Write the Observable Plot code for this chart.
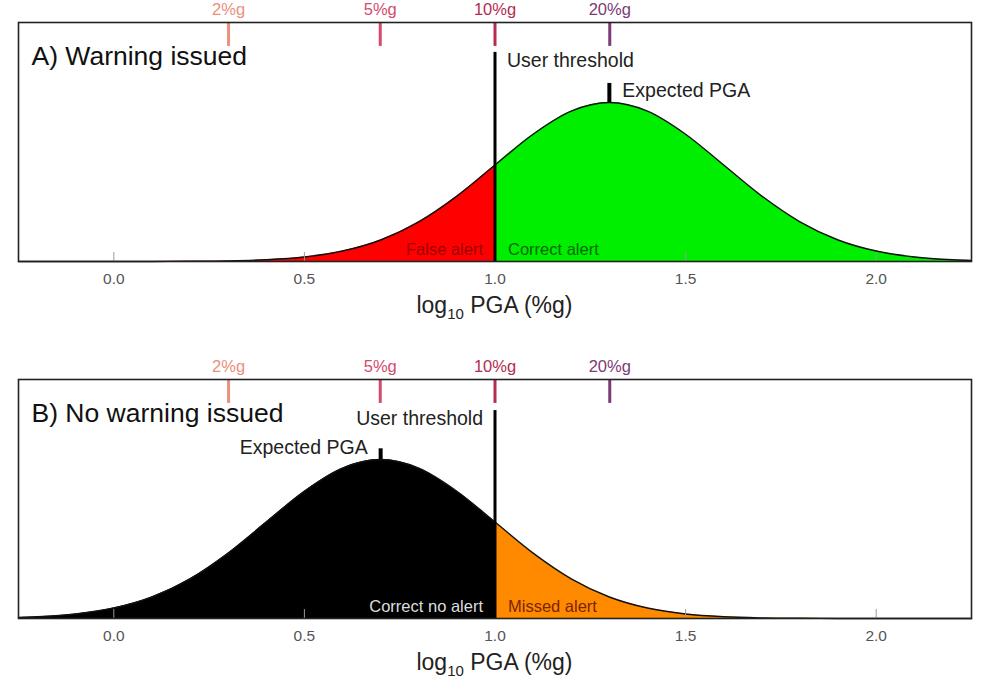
<!DOCTYPE html>
<html>
<head>
<meta charset="utf-8">
<script src="https://cdn.jsdelivr.net/npm/d3@7"></script>
<script src="https://cdn.jsdelivr.net/npm/@observablehq/plot@0.6"></script>
<style>
  body { margin: 0; background: #fff; font-family: "Liberation Sans", Arial, sans-serif; }
  #chart svg { display: block; }
</style>
</head>
<body>
<div id="chart"></div>
<script>
// ---- data ----
const xs = [-0.25, -0.2, -0.1, 0.0, 0.1, 0.2, 0.3, 0.4, 0.5, 0.6, 0.7, 0.8, 0.9, 1.0,
            1.1, 1.2, 1.3, 1.4, 1.5, 1.6, 1.7, 1.8, 1.9, 2.0, 2.1, 2.2, 2.25];
const densityA = [0, 0, 0, 0.0001, 0.0004, 0.0016, 0.0051, 0.0148, 0.038, 0.0874, 0.180, 0.332, 0.547, 0.807,
                  1.065, 1.258, 1.330, 1.258, 1.065, 0.807, 0.547, 0.332, 0.180, 0.0874, 0.038, 0.0148, 0.0088];
const densityB = [0.0088, 0.0148, 0.038, 0.0874, 0.180, 0.332, 0.547, 0.807, 1.065, 1.258, 1.330, 1.258, 1.065, 0.807,
                  0.547, 0.332, 0.180, 0.0874, 0.038, 0.0148, 0.0051, 0.0016, 0.0004, 0.0001, 0, 0, 0];
const threshold = 1.0;
const expectedA = 1.3;
const expectedB = 0.7;
const pgaTickLabels = ["2%g", "5%g", "10%g", "20%g"];
const pgaTickValues = [Math.log10(2), Math.log10(5), Math.log10(10), Math.log10(20)];
const pgaTickColors = ["#ec8f7c", "#d44a6c", "#b42c50", "#7c3a76"];
const xTicks = [0, 0.5, 1.0, 1.5, 2.0];

function panel(o) {
  const data = xs.map((x, i) => ({x, y: o.density[i]}));
  const left = data.filter(d => d.x <= threshold);
  const right = data.filter(d => d.x >= threshold);
  const peak = d3.max(o.density);
  const tops = pgaTickValues.map((v, i) => ({v, label: pgaTickLabels[i], color: pgaTickColors[i]}));
  const side = o.side === "right" ? 1 : -1;
  const anchor = o.side === "right" ? "start" : "end";
  const font = "Liberation Sans, Arial, sans-serif";
  const chart = Plot.plot({
    width: 983,
    height: o.height,
    marginTop: o.marginTop,
    marginBottom: o.marginBottom,
    marginLeft: 18,
    marginRight: 12,
    style: {fontFamily: font, background: "#fff"},
    x: {domain: [-0.25, 2.25], ticks: xTicks, tickFormat: d3.format(".1f"), label: null},
    y: {domain: [0, 2], axis: null},
    marks: [
      Plot.areaY(left, {x: "x", y: "y", fill: o.leftFill, curve: "monotone-x"}),
      Plot.areaY(right, {x: "x", y: "y", fill: o.rightFill, curve: "monotone-x"}),
      Plot.lineY(data, {x: "x", y: "y", stroke: "#111", strokeWidth: 1.4, curve: "monotone-x"}),
      Plot.ruleX(xTicks, {y1: 0, y2: 0.075, stroke: "#999", strokeWidth: 1}),
      Plot.axisX({tickSize: 0, tickPadding: 11, fontSize: 15.5, fill: "#555", ticks: xTicks, tickFormat: d3.format(".1f")}),
      Plot.ruleX([threshold], {y1: 0, y2: o.thrTop, stroke: "#000", strokeWidth: 3}),
      Plot.ruleX([o.expected], {y1: peak, y2: o.expTop, stroke: "#000", strokeWidth: 4}),
      Plot.text(["User threshold"], {x: threshold, y: o.thrLabelY, text: d => d, dx: 12 * side, textAnchor: anchor, fontSize: 19.5, fill: "#222"}),
      Plot.text(["Expected PGA"], {x: o.expected, y: 1.43, text: d => d, dx: 13 * side, textAnchor: anchor, fontSize: 19.5, fill: "#222"}),
      Plot.text([o.leftLabel], {x: threshold, y: 0.1, text: d => d, dx: -12, textAnchor: "end", fontSize: 16.5, fill: o.leftColor}),
      Plot.text([o.rightLabel], {x: threshold, y: 0.1, text: d => d, dx: 13, textAnchor: "start", fontSize: 16.5, fill: o.rightColor}),
      Plot.ruleX(tops, {x: "v", y1: 2, y2: 1.80, stroke: "color", strokeWidth: 3}),
      Plot.text(tops, {x: "v", y: 2, text: "label", dy: -13, fontSize: 16.5, fill: "color"}),
      Plot.text([o.title], {frameAnchor: "top-left", text: d => d, dx: 13, dy: 34, fontSize: 26.5, fill: "#111", lineAnchor: "middle"}),
      Plot.frame({stroke: "#222", strokeWidth: 1.6})
    ]
  });
  // axis label with subscript
  const svg = d3.select(chart.tagName === "svg" ? chart : chart.querySelector("svg"));
  const t = svg.append("text")
    .attr("x", (18 + 983 - 12) / 2)
    .attr("y", o.height - o.marginBottom + 52)
    .attr("text-anchor", "middle")
    .attr("font-size", 23)
    .attr("fill", "#222")
    .attr("font-family", font);
  t.append("tspan").text("log");
  t.append("tspan").attr("font-size", 15).attr("dy", 6).text("10");
  t.append("tspan").attr("dy", -6).text(" PGA (%g)");
  return chart;
}

const root = document.getElementById("chart");
root.appendChild(panel({
  density: densityA, expected: expectedA, leftFill: "#ff0000", rightFill: "#00ee00",
  leftLabel: "False alert", rightLabel: "Correct alert", leftColor: "#9a0000", rightColor: "#006a00",
  title: "A) Warning issued", height: 340, marginTop: 22, marginBottom: 79,
  side: "right", thrTop: 1.75, thrLabelY: 1.68, expTop: 1.49
}));
root.appendChild(panel({
  density: densityB, expected: expectedB, leftFill: "#000000", rightFill: "#ff8a00",
  leftLabel: "Correct no alert", rightLabel: "Missed alert", leftColor: "#dddddd", rightColor: "#7a2400",
  title: "B) No warning issued", height: 359, marginTop: 39, marginBottom: 81,
  side: "left", thrTop: 1.74, thrLabelY: 1.67, expTop: 1.42
}));
</script>
</body>
</html>
